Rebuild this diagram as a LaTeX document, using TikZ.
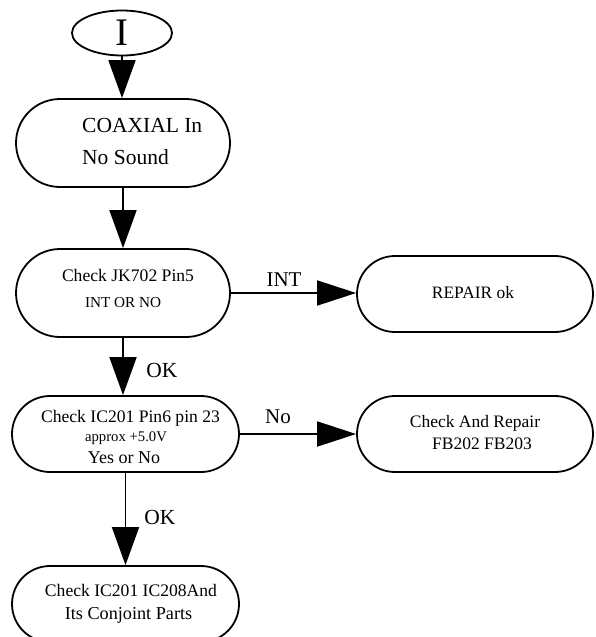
\documentclass[tikz,border=0pt]{standalone}
\usepackage{fontspec}
\setmainfont{Liberation Serif}
\usetikzlibrary{arrows.meta,shapes.geometric,shapes.misc}
\tikzset{
  box/.style={draw=black, line width=1.8pt, fill=white, inner sep=0pt},
  stadium/.style={box, rounded rectangle},
  oval/.style={box, ellipse},
  arrv/.style={line width=1.8pt, -{Triangle[length=38pt,width=27pt]}},
  arrh/.style={line width=1.8pt, -{Triangle[length=39pt,width=25pt]}},
  txt/.style={inner sep=0pt, font=\fontsize{17.6}{20}\selectfont},
  lbl/.style={inner sep=0pt, font=\fontsize{21.5}{24}\selectfont},
}
\begin{document}
\begin{tikzpicture}[x=1pt,y=1pt]
\useasboundingbox (0,0) rectangle (595,-637);
% nodes
\node[oval, minimum width=100pt, minimum height=45pt] (start) at (122,-33) {};
\node[inner sep=0pt, font=\fontsize{39}{39}\selectfont] (startT) at (122,-33) {I};
\node[stadium, minimum width=214pt, minimum height=88pt] (coax) at (123,-143) {};
\node[stadium, minimum width=214pt, minimum height=88pt] (jk) at (123,-293) {};
\node[stadium, minimum width=236pt, minimum height=76pt] (rep) at (475,-294) {};
\node[stadium, minimum width=227pt, minimum height=76pt] (ic) at (125.5,-434) {};
\node[stadium, minimum width=236pt, minimum height=76pt] (fb) at (475,-434) {};
\node[stadium, minimum width=227pt, minimum height=76pt] (last) at (125.5,-604) {};
% texts
\node[inner sep=0pt, anchor=west, align=left, font=\fontsize{21.5}{32}\selectfont] (coaxT) at (82,-141) {COAXIAL In\\No Sound};
\node[txt] (jkT1) at (128,-275) {Check JK702 Pin5};
\node[txt, font=\fontsize{15.2}{17}\selectfont] (jkT2) at (123,-303) {INT OR NO};
\node[txt, font=\fontsize{17.4}{20}\selectfont] (repT) at (473,-293) {REPAIR ok};
\node[txt] (icT1) at (130.5,-418) {Check IC201 Pin6 pin 23};
\node[txt, font=\fontsize{14.7}{17}\selectfont] (icT2) at (126,-438) {approx +5.0V};
\node[txt, font=\fontsize{18}{20}\selectfont] (icT3) at (124,-458) {Yes or No};
\node[txt, font=\fontsize{17.5}{20}\selectfont] (fbT1) at (475,-423) {Check And Repair};
\node[txt, font=\fontsize{17.5}{20}\selectfont] (fbT2) at (482,-444) {FB202 FB203};
\node[txt] (lastT1) at (131,-590) {Check IC201 IC208And};
\node[txt, font=\fontsize{18.2}{20}\selectfont] (lastT2) at (128.5,-615) {Its Conjoint Parts};
% connectors
\draw[arrv] (start.south) -- (start.south |- coax.north);
\draw[arrv] (coax.south) -- (coax.south |- jk.north);
\draw[arrv] (jk.south) -- (jk.south |- ic.north);
\draw[arrv] (ic.south) -- (ic.south |- last.north);
\draw[arrh] (jk.east) -- (jk.east -| rep.west);
\draw[arrh] (ic.east) -- (ic.east -| fb.west);
% labels
\node[lbl, font=\fontsize{21}{24}\selectfont] (lINT) at (284,-280) {INT};
\node[lbl] (lOK1) at (162,-370) {OK};
\node[lbl, font=\fontsize{21}{24}\selectfont] (lNo) at (278,-417) {No};
\node[lbl] (lOK2) at (160,-517) {OK};
\end{tikzpicture}
\end{document}
